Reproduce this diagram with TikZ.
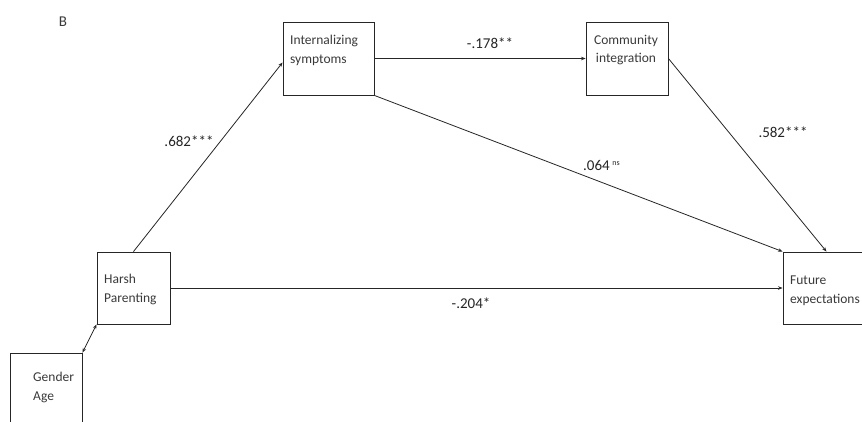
\documentclass[tikz,border=0pt]{standalone}
\usepackage{fontspec}
\setmainfont{Carlito}
\usetikzlibrary{arrows.meta}
\definecolor{txt}{HTML}{3A3A3A}
\begin{document}
\begin{tikzpicture}[x=1pt,y=-1pt,
  box/.style={draw=black!85,line width=0.9pt,inner sep=0pt},
  btext/.style={anchor=north west,inner sep=0pt,font=\fontsize{13.5}{18.5}\selectfont,text=txt,align=left},
  coef/.style={inner sep=0pt,font=\fontsize{15}{17}\selectfont,text=black!85},
  arr/.style={line width=0.8pt,draw=black!85,-{Stealth[length=4.5pt,width=3.5pt]}},
  darr/.style={line width=0.8pt,draw=black!85,{Stealth[length=4.5pt,width=3.5pt]}-{Stealth[length=4.5pt,width=3.5pt]}}]
\useasboundingbox[fill=white] (0,0) rectangle (862,421);
% boxes
\node[box,minimum width=91pt,minimum height=73pt] (intern) at (328.5,58.5) {};
\node[box,minimum width=82pt,minimum height=73pt] (comm) at (627,58.5) {};
\node[box,minimum width=73pt,minimum height=72pt] (harsh) at (133.5,288) {};
\node[box,minimum width=87pt,minimum height=72pt] (fut) at (826.5,288) {};
\node[box,minimum width=72pt,minimum height=80pt] (gend) at (46,393) {};
% box texts
\node[btext] (tintern) at (290,35) {Internalizing\\symptoms};
\node[btext,align=center,anchor=north] (tcomm) at (626,35) {Community\\integration};
\node[btext] (tharsh) at (104,274) {Harsh\\Parenting};
\node[btext] (tfut) at (790,276) {Future\\expectations};
\node[btext] (tgend) at (33,372) {Gender\\Age};
% label B
\node[inner sep=0pt,font=\fontsize{15}{17}\selectfont,text=txt] (lb) at (63,22) {B};
% connectors
\draw[arr] (harsh.north) -- ([yshift=-4pt]intern.west);
\draw[arr] (intern.east) -- (comm.west);
\draw[arr] (intern.south east) -- (fut.north west);
\draw[arr] (comm.east) -- (fut.north);
\draw[arr] (harsh.east) -- (fut.west);
\draw[darr] (gend.north east) -- (harsh.south west);
% coefficients
\node[coef] (c1) at (189,141) {.682***};
\node[coef] (c2) at (490,43) {-.178**};
\node[coef] (c3) at (783,132) {.582***};
\node[coef,anchor=west] (c4) at (583,165) {.064\,\raisebox{0.6ex}{\fontsize{8}{9}\selectfont ns}};
\node[coef] (c5) at (471,303) {-.204*};
\end{tikzpicture}
\end{document}
